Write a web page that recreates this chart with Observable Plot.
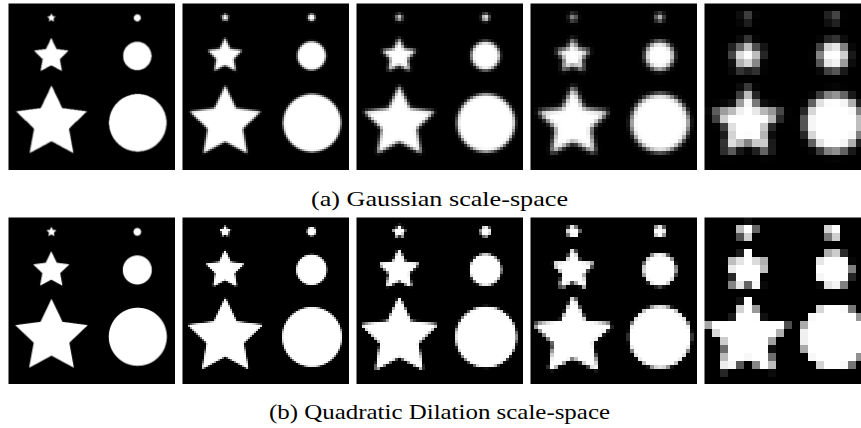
<!DOCTYPE html>
<html><head><meta charset="utf-8">
<script src="https://cdn.jsdelivr.net/npm/d3@7"></script>
<script src="https://cdn.jsdelivr.net/npm/@observablehq/plot@0.6"></script>
<style>
html,body{margin:0;padding:0;background:#fff;overflow:hidden;width:861px;height:428px;}
#root{position:relative;width:861px;height:428px;overflow:hidden;background:#fff;}
#caps{position:absolute;left:0;top:0;}
</style></head><body><div id="root"></div>
<script>
// ---- data: the test image (shapes in unit image coordinates, y downward) ----
const shapeKind = ["star", "star", "star", "circle", "circle", "circle"];
const shapeX    = [0.257, 0.256, 0.2575, 0.771, 0.771, 0.774];
const shapeY    = [0.086, 0.316, 0.715, 0.086, 0.314, 0.714];
const shapeR    = [0.027, 0.110, 0.224, 0.021, 0.085, 0.172];
const starInnerRatio = 0.49;
// ---- data: the five scales of each scale-space ----
const panelRes       = [168, 84, 56, 42, 21];      // pixels across each image
const gaussSigma     = [0.35, 0.8, 1.3, 2.0, 2.7]; // in full-resolution pixels
const dilationReach  = [0.5, 1.5, 2.5, 3.5, 6.0];  // in full-resolution pixels
const rowCaptions    = ["(a) Gaussian scale-space", "(b) Quadratic Dilation scale-space"];

// ---- layout ----
const L = {size: 167, left0: 8, step: 174, top: [3, 217],
  capX: 439.5, capBase: [205.5, 419], capWidth: [257, 341], capFont: 22};

const FULL = 168, M = FULL * 2;

function starVerts(cx, cy, R) {
  const v = [];
  for (let k = 0; k < 10; k++) {
    const a = -Math.PI / 2 + k * Math.PI / 5, r = k % 2 ? R * starInnerRatio : R;
    v.push([cx + r * Math.cos(a), cy + r * Math.sin(a)]);
  }
  return v;
}
function segDist(px, py, ax, ay, bx, by) {
  const dx = bx - ax, dy = by - ay;
  let t = ((px - ax) * dx + (py - ay) * dy) / (dx * dx + dy * dy);
  t = Math.max(0, Math.min(1, t));
  return Math.hypot(ax + t * dx - px, ay + t * dy - py);
}
function inside(px, py, v) {
  let c = false;
  for (let i = 0, j = v.length - 1; i < v.length; j = i++) {
    const [xi, yi] = v[i], [xj, yj] = v[j];
    if ((yi > py) !== (yj > py) && px < (xj - xi) * (py - yi) / (yj - yi) + xi) c = !c;
  }
  return c;
}
const shapes = shapeKind.map((k, i) => ({kind: k, x: shapeX[i], y: shapeY[i], r: shapeR[i],
  v: k === "star" ? starVerts(shapeX[i], shapeY[i], shapeR[i]) : null}));

// distance field (in full-resolution pixels) sampled on an M x M grid
const dist = new Float32Array(M * M);
for (let j = 0; j < M; j++) {
  const py = (j + 0.5) / M;
  for (let i = 0; i < M; i++) {
    const px = (i + 0.5) / M;
    let best = 1e9;
    for (const s of shapes) {
      const dc = Math.hypot(px - s.x, py - s.y);
      if (dc - s.r > best) continue;
      let d;
      if (s.kind === "circle") d = Math.max(0, dc - s.r);
      else if (inside(px, py, s.v)) d = 0;
      else {
        d = 1e9;
        for (let a = 0; a < 10; a++) {
          const p = s.v[a], q = s.v[(a + 1) % 10];
          d = Math.min(d, segDist(px, py, p[0], p[1], q[0], q[1]));
        }
      }
      if (d < best) best = d;
    }
    dist[j * M + i] = best * FULL;
  }
}

function blur(src, s) {
  if (s <= 0) return src;
  const r = Math.ceil(3 * s);
  let k = [], sum = 0;
  for (let i = -r; i <= r; i++) { const w = Math.exp(-i * i / (2 * s * s)); k.push(w); sum += w; }
  k = k.map(w => w / sum);
  const tmp = new Float32Array(M * M), out = new Float32Array(M * M);
  for (let y = 0; y < M; y++) for (let x = 0; x < M; x++) {
    let acc = 0;
    for (let i = -r; i <= r; i++) { const xx = x + i; if (xx >= 0 && xx < M) acc += src[y * M + xx] * k[i + r]; }
    tmp[y * M + x] = acc;
  }
  for (let y = 0; y < M; y++) for (let x = 0; x < M; x++) {
    let acc = 0;
    for (let i = -r; i <= r; i++) { const yy = y + i; if (yy >= 0 && yy < M) acc += tmp[yy * M + x] * k[i + r]; }
    out[y * M + x] = acc;
  }
  return out;
}
// block average
function down(src, N) {
  const f = M / N, out = new Array(N * N);
  for (let j = 0; j < N; j++) for (let i = 0; i < N; i++) {
    let acc = 0;
    for (let b = 0; b < f; b++) for (let a = 0; a < f; a++) acc += src[(j * f + b) * M + i * f + a];
    out[j * N + i] = Math.min(1, acc / (f * f));
  }
  return out;
}
// subsample at block centres
function sample(src, N) {
  const f = M / N, c = f / 2, out = new Array(N * N);
  for (let j = 0; j < N; j++) for (let i = 0; i < N; i++) {
    const y0 = j * f + c - 1, x0 = i * f + c - 1;
    out[j * N + i] = Math.min(1, (src[y0 * M + x0] + src[y0 * M + x0 + 1] + src[(y0 + 1) * M + x0] + src[(y0 + 1) * M + x0 + 1]) / 4);
  }
  return out;
}
const binary = dist.map(d => d === 0 ? 1 : 0);
function gaussianImage(k) { return down(blur(binary, gaussSigma[k] * 2), panelRes[k]); }
function dilationImage(k) {
  const h = dilationReach[k];
  const img = dist.map(d => Math.max(0, 1 - (d / h) * (d / h)));
  return k === 0 ? down(img, panelRes[k]) : sample(blur(img, 0.6), panelRes[k]);
}

function panel(values, N) {
  return Plot.plot({
    width: L.size, height: L.size, margin: 0,
    x: {domain: [0, 1], axis: null},
    y: {domain: [0, 1], axis: null, reverse: true},
    color: {type: "linear", domain: [0, 1], range: ["#000", "#fff"], interpolate: "rgb"},
    marks: [
      Plot.raster(values, {width: N, height: N, x1: 0, x2: 1, y1: 0, y2: 1, fill: d => d,
        imageRendering: N < 100 ? "pixelated" : "auto"})
    ]
  });
}

const root = document.getElementById("root");
[gaussianImage, dilationImage].forEach((make, row) => {
  panelRes.forEach((N, k) => {
    const svg = panel(make(k), N);
    svg.style.setProperty("position", "absolute");
    svg.style.setProperty("left", (L.left0 + k * L.step) + "px");
    svg.style.setProperty("top", L.top[row] + "px");
    svg.style.setProperty("width", L.size + "px", "important");
    svg.style.setProperty("height", L.size + "px", "important");
    svg.style.setProperty("max-width", "none", "important");
    svg.style.setProperty("display", "block");
    root.appendChild(svg);
  });
});

// captions
const NS = "http://www.w3.org/2000/svg";
const caps = document.createElementNS(NS, "svg");
caps.setAttribute("id", "caps");
caps.setAttribute("width", 861);
caps.setAttribute("height", 428);
rowCaptions.forEach((t, row) => {
  const tx = document.createElementNS(NS, "text");
  tx.setAttribute("x", L.capX - L.capWidth[row] / 2);
  tx.setAttribute("y", L.capBase[row]);
  tx.setAttribute("textLength", L.capWidth[row]);
  tx.setAttribute("lengthAdjust", "spacingAndGlyphs");
  tx.setAttribute("font-family", "Liberation Serif, Times New Roman, serif");
  tx.setAttribute("font-size", L.capFont);
  tx.setAttribute("fill", "#000");
  tx.textContent = t;
  caps.appendChild(tx);
});
root.appendChild(caps);
</script></body></html>
